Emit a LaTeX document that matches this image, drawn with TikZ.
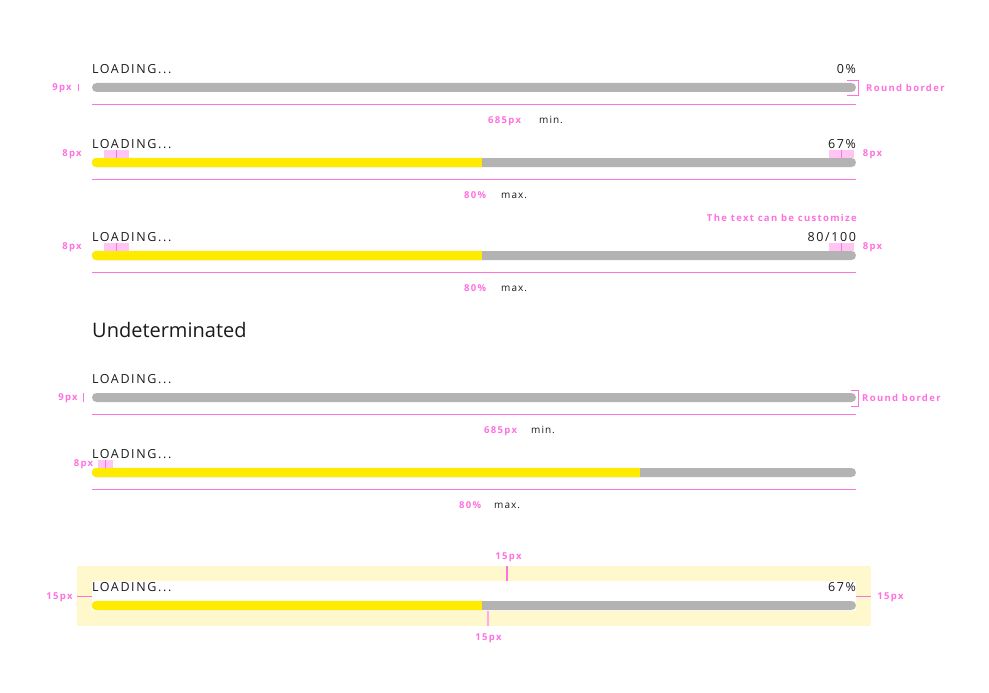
\documentclass[tikz,border=0pt]{standalone}
\usepackage{fontspec}
\setmainfont{Open Sans}
\newfontfamily\loadfont[LetterSpace=13]{Open Sans}
\newfontfamily\notefont[LetterSpace=14]{Open Sans}
\newfontfamily\hintfont[LetterSpace=10]{Open Sans}
\usepackage{tikz}
\usetikzlibrary{positioning,calc}
\definecolor{cPink}  {HTML}{FF70E0}
\definecolor{cPinkLt}{HTML}{FFC6F3}
\definecolor{cTrack} {HTML}{B3B3B3}
\definecolor{cFill}  {HTML}{FFEB00}
\definecolor{cPad}   {HTML}{FFF8CC}
\definecolor{cInk}   {HTML}{1A1A1A}
\tikzset{
  track/.style={fill=cTrack,rounded corners=4.5pt,minimum width=764pt,
                minimum height=9pt,inner sep=0pt},
  lbl/.style ={font=\loadfont\fontsize{12.5}{14}\selectfont,text=cInk,inner sep=0pt},
  note/.style={font=\notefont\bfseries\fontsize{9.5}{11}\selectfont,text=cPink,inner sep=0pt},
  hint/.style={font=\hintfont\fontsize{10}{12}\selectfont,text=cInk,inner sep=0pt},
  rule/.style={cPink,line width=0.8pt},
  padbox/.style={fill=cPinkLt,inner sep=0pt,minimum height=8pt},
  gapmark/.style={fill=cPink,inner sep=0pt,minimum width=1.5pt,minimum height=15pt},
}
% yellow part of a bar: name, length
\newcommand{\barfill}[2]{%
  \begin{scope}
    \clip (#1.south west) rectangle ([xshift=#2]#1.north west);
    \fill[cFill,rounded corners=4.5pt] (#1.south west) rectangle (#1.north east);
  \end{scope}}

\begin{document}
\begin{tikzpicture}[x=1pt,y=-1pt]
  \useasboundingbox (0,0) rectangle (989,693);

  % bar 1
  \node[track] (b1) at (474,87.5) {};
  \node[lbl,anchor=base west] (l1) at ([yshift=9pt]b1.north west) {LOADING...};
  \node[lbl,anchor=base east] (v1) at ([yshift=9pt]b1.north east) {0\%};
  \draw[rule] (b1.south west) ++(0,12) coordinate (r1a) -- (r1a -| b1.east);
  \node[note] (h1) at (62,88) {9px};
  \draw[cPink,line width=0.7pt] (78,84) -- (78,91);
  \draw[cPink,line width=0.7pt] (847,80.5) -- (858,80.5) -- (858,95) -- (847,95);
  \node[note,anchor=west] (rb1) at (866,88) {Round border};
  \node[note,anchor=base west] (n1) at (488,124) {685px};
  \node[hint,anchor=base west] (m1) at (539,124) {min.};

  % bar 2
  \node[track] (b2) at (474,162.5) {};
  \barfill{b2}{390pt}
  \node[lbl,anchor=base west] (l2) at ([yshift=9pt]b2.north west) {LOADING...};
  \node[lbl,anchor=base east] (v2) at ([yshift=9pt]b2.north east) {67\%};
  \draw[rule] (b2.south west) ++(0,12) coordinate (r2a) -- (r2a -| b2.east);
  \node[padbox,minimum width=25pt] (pl2) at (116,154) {};
  \node[padbox,minimum width=25pt] (pr2) at (841.5,154) {};
  \draw[cPink,line width=0.6pt] (pl2.north) -- (pl2.south);
  \draw[cPink,line width=0.6pt] (pr2.north) -- (pr2.south);
  \node[note] (hl2) at (72,154.5) {8px};
  \node[note] (hr2) at (872.5,154.5) {8px};
  \node[note,anchor=base west] (n2) at (464,198.5) {80\%};
  \node[hint,anchor=base west] (m2) at (501,198.5) {max.};

  % bar 3
  \node[note,anchor=east] (tc) at (857,217.5) {The text can be customize};
  \node[track] (b3) at (474,255.5) {};
  \barfill{b3}{390pt}
  \node[lbl,anchor=base west] (l3) at ([yshift=9pt]b3.north west) {LOADING...};
  \node[lbl,anchor=base east] (v3) at ([yshift=9pt]b3.north east) {80/100};
  \draw[rule] (b3.south west) ++(0,12) coordinate (r3a) -- (r3a -| b3.east);
  \node[padbox,minimum width=25pt] (pl3) at (116.5,247) {};
  \node[padbox,minimum width=25pt] (pr3) at (841.5,247) {};
  \draw[cPink,line width=0.6pt] (pl3.north) -- (pl3.south);
  \draw[cPink,line width=0.6pt] (pr3.north) -- (pr3.south);
  \node[note] (hl3) at (72,247.5) {8px};
  \node[note] (hr3) at (872.5,247.5) {8px};
  \node[note,anchor=base west] (n3) at (464,291.5) {80\%};
  \node[hint,anchor=base west] (m3) at (501,291.5) {max.};

  \node[anchor=base west,inner sep=0pt,text=cInk,font=\fontsize{20}{22}\selectfont]
    (und) at (92,337.5) {Undeterminated};

  % bar 4
  \node[track] (b4) at (474,397.5) {};
  \node[lbl,anchor=base west] (l4) at ([yshift=9pt]b4.north west) {LOADING...};
  \draw[rule] (b4.south west) ++(0,12) coordinate (r4a) -- (r4a -| b4.east);
  \node[note] (h4) at (68,398) {9px};
  \draw[cPink,line width=0.7pt] (83,393) -- (83,402);
  \draw[cPink,line width=0.7pt] (851,390.5) -- (858,390.5) -- (858,406) -- (851,406);
  \node[note,anchor=west] (rb4) at (862,398) {Round border};
  \node[note,anchor=base west] (n4) at (484,433.5) {685px};
  \node[hint,anchor=base west] (m4) at (531,433.5) {min.};

  % bar 5
  \node[track] (b5) at (474,472.5) {};
  \barfill{b5}{548pt}
  \node[lbl,anchor=base west] (l5) at ([yshift=9pt]b5.north west) {LOADING...};
  \draw[rule] (b5.south west) ++(0,12) coordinate (r5a) -- (r5a -| b5.east);
  \node[padbox,minimum width=15pt] (pl5) at (105.5,464) {};
  \draw[cPink,line width=0.6pt] (pl5.north) -- (pl5.south);
  \node[note] (hl5) at (83.5,464) {8px};
  \node[note,anchor=base west] (n5) at (459,508.5) {80\%};
  \node[hint,anchor=base west] (m5) at (494,508.5) {max.};

  % padded bar
  \fill[cPad] (77,566) rectangle (871,626);
  \fill[white] (92,581) rectangle (856,611);
  \node[track] (b6) at (474,605.5) {};
  \barfill{b6}{390pt}
  \node[lbl,anchor=base west] (l6) at ([yshift=9pt]b6.north west) {LOADING...};
  \node[lbl,anchor=base east] (v6) at ([yshift=9pt]b6.north east) {67\%};
  \node[gapmark] (gt) at (507,573.5) {};
  \node[gapmark,fill=cPink!60] (gb) at (488,618.5) {};
  \draw[rule] (77,596.5) -- (92,596.5);
  \draw[rule] (856,596.5) -- (871,596.5);
  \node[note] (t6) at (508.5,557) {15px};
  \node[note] (d6) at (488.5,638) {15px};
  \node[note] (w6) at (59.5,597) {15px};
  \node[note] (e6) at (890.5,597) {15px};
\end{tikzpicture}
\end{document}
